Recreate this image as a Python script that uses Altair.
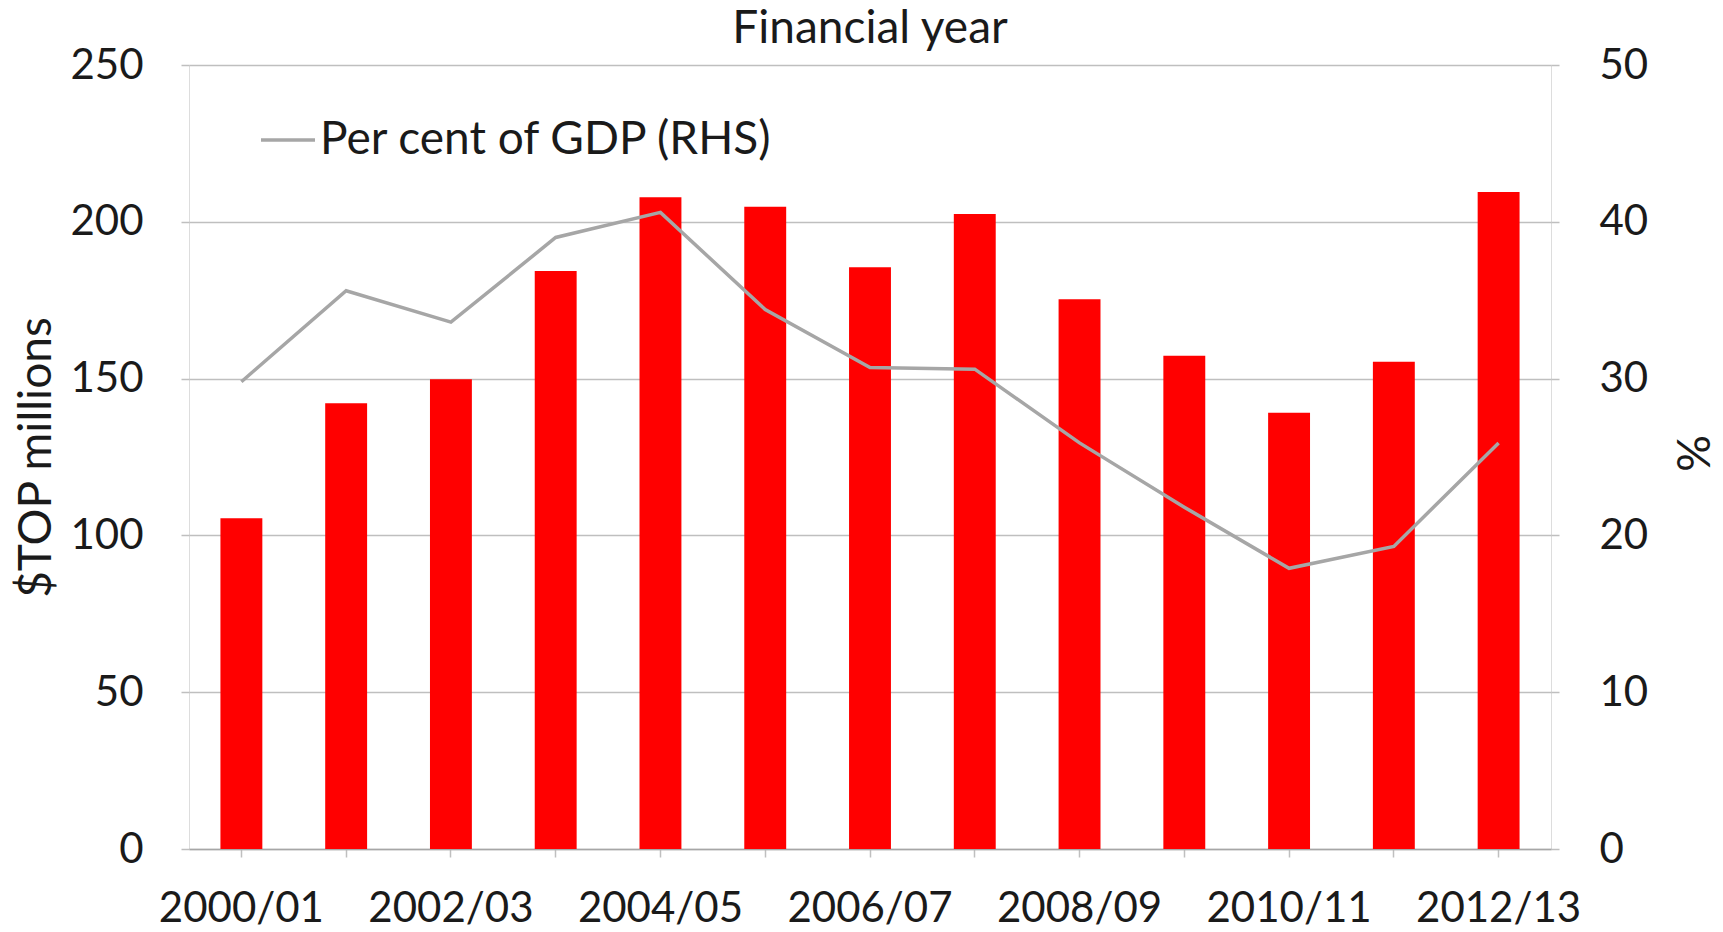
import altair as alt
import pandas as pd

years = ["2000/01", "2001/02", "2002/03", "2003/04", "2004/05", "2005/06", "2006/07",
         "2007/08", "2008/09", "2009/10", "2010/11", "2011/12", "2012/13"]
top_millions = [105.5, 142.1, 149.8, 184.3, 207.8, 204.8, 185.5, 202.5, 175.3, 157.3, 139.1, 155.4, 209.5]
pct_gdp = [29.8, 35.6, 33.6, 39.0, 40.6, 34.4, 30.7, 30.6, 25.9, 21.8, 17.9, 19.3, 25.9]
series_name = "Per cent of GDP (RHS)"

df = pd.DataFrame({"year": years, "top": top_millions, "pct": pct_gdp,
                   "series": [series_name] * len(years)})

FONT = "Lato"
FS = 42
FST = 46
TXT = "#1a1a1a"
GRID = "#BFBFBF"

x = alt.X("year:N", sort=years,
          scale=alt.Scale(paddingInner=0.6, paddingOuter=0.3),
          axis=alt.Axis(title=None,
                        labelExpr="toNumber(slice(datum.value,0,4)) % 2 == 0 ? datum.value : ''",
                        labelAngle=0, labelFont=FONT, labelFontSize=FS, labelColor=TXT,
                        labelBaseline="alphabetic", labelPadding=64, tickSize=8,
                        tickColor=GRID, domainColor="#A6A6A6", domainWidth=1.5,
                        tickWidth=1.5, labelOverlap=False, labelFlush=False))

bars = alt.Chart(df).mark_bar(color="#FF0000").encode(
    x=x,
    y=alt.Y("top:Q", scale=alt.Scale(domain=[0, 250], nice=False),
            axis=alt.Axis(title="$TOP millions", values=[0, 50, 100, 150, 200, 250],
                          labelFont=FONT, labelFontSize=FS, labelColor=TXT,
                          labelPadding=38, tickSize=8, tickColor=GRID, tickWidth=1.5,
                          grid=True, gridColor=GRID, gridWidth=1.5, domain=False,
                          titleFont=FONT, titleFontSize=FST, titleFontWeight="normal",
                          titleColor=TXT, titleAngle=270, titleAlign="center",
                          titleBaseline="middle", titleX=-153, titleY=392)),
)

line = alt.Chart(df).mark_line(strokeWidth=3.5).encode(
    x=x,
    y=alt.Y("pct:Q", scale=alt.Scale(domain=[0, 50], nice=False),
            axis=alt.Axis(title="%", orient="right", values=[0, 10, 20, 30, 40, 50],
                          labelFont=FONT, labelFontSize=FS, labelColor=TXT,
                          labelPadding=40, tickSize=8, tickColor=GRID, tickWidth=1.5,
                          grid=False, domain=False,
                          titleFont=FONT, titleFontSize=FST, titleFontWeight="normal",
                          titleColor=TXT, titleAngle=90, titleAlign="center",
                          titleBaseline="middle", titleX=139, titleY=388)),
    color=alt.Color("series:N", scale=alt.Scale(range=["#A6A6A6"]),
                    legend=alt.Legend(title=None, orient="none", legendX=70, legendY=46,
                                      symbolType="stroke", symbolSize=2916,
                                      symbolStrokeWidth=3.5, labelFont=FONT,
                                      labelFontSize=FST, labelColor=TXT, labelOffset=3,
                                      labelLimit=0, padding=0)),
)

chart = alt.layer(bars, line).resolve_scale(y="independent").properties(
    width=1362, height=784,
    title=alt.TitleParams("Financial year", font=FONT, fontSize=FST, fontWeight="normal",
                          color=TXT, anchor="middle", frame="group", offset=-9),
    autosize=alt.AutoSizeParams(type="none"),
    padding={"left": 181, "top": 57, "right": 160, "bottom": 86},
).configure_view(stroke="#C8C8C8", strokeWidth=1.5).configure(background="white")

chart.save("out.html", embed_options={"renderer": "svg", "actions": False})
